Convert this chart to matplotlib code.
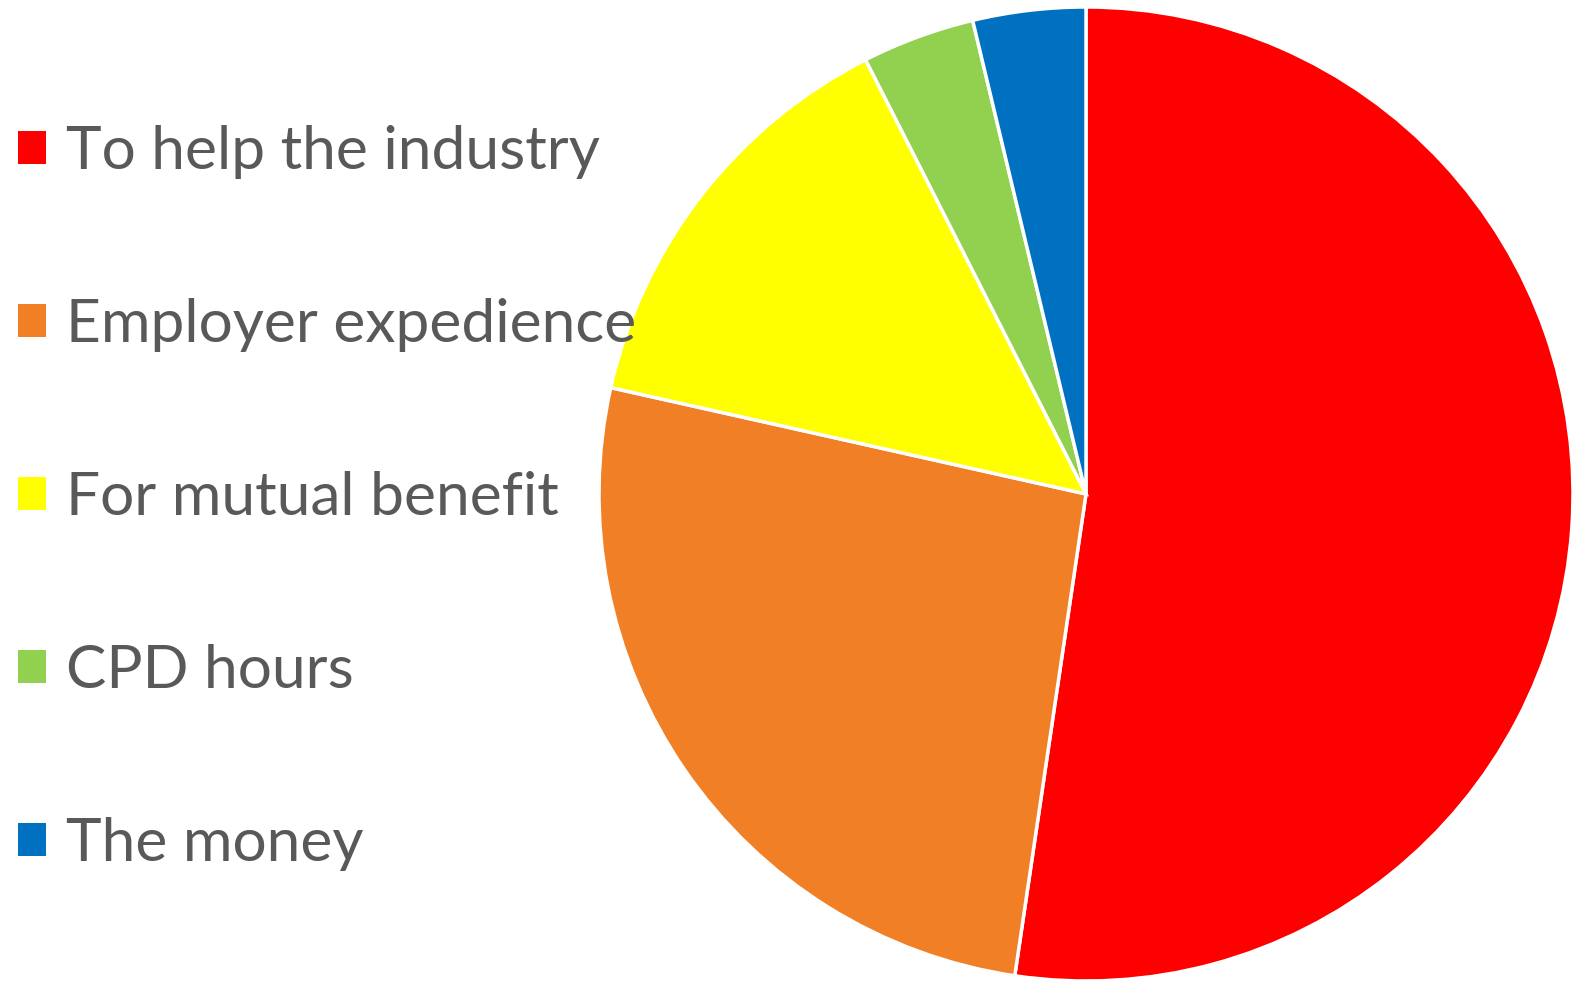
import matplotlib.pyplot as plt
from matplotlib.patches import Patch

labels = ['To help the industry', 'Employer expedience', 'For mutual benefit', 'CPD hours', 'The money']
values = [56, 28, 15, 4, 4]
colors = ['#FF0000', '#F07F26', '#FFFF00', '#92D050', '#0070C0']

plt.rcParams['font.family'] = ['Lato', 'DejaVu Sans']

fig = plt.figure(figsize=(15.8, 9.84), dpi=100)

# pie axes, centred around (1086, 494) px with radius ~487 px
cx, cy, r = 1086, 494, 487
W, H = 1580, 984
ax = fig.add_axes([(cx - r) / W, (H - cy - r) / H, 2 * r / W, 2 * r / H])
ax.pie(values, colors=colors, startangle=90, counterclock=False,
       wedgeprops=dict(edgecolor='white', linewidth=2.5), radius=1)
ax.set_xlim(-1, 1)
ax.set_ylim(-1, 1)
ax.set_aspect('equal')
ax.axis('off')

handles = [Patch(facecolor=c, edgecolor='none') for c in colors]
fig.legend(handles, labels, loc='upper left', bbox_to_anchor=(18 / W, 1 - 125 / H),
           frameon=False, fontsize=43.5, labelcolor='#595959',
           handlelength=0.47, handleheight=0.47, handletextpad=0.33,
           labelspacing=1.97, borderaxespad=0, borderpad=0)

fig.savefig('out.png', dpi=100)
